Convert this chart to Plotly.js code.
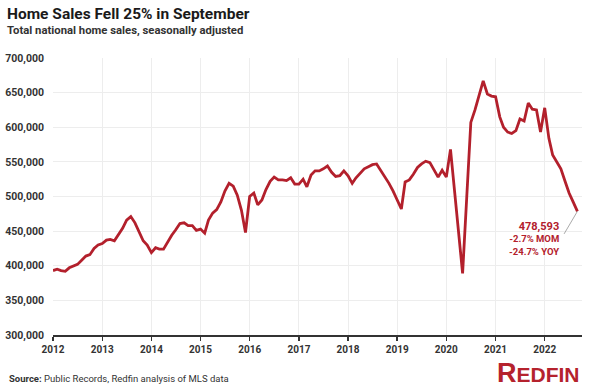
<!DOCTYPE html>
<html>
<head>
<meta charset="utf-8">
<script src="https://cdn.plot.ly/plotly-3.0.1.min.js"></script>
<style>
  html, body { margin: 0; padding: 0; background: #fff; }
  #chart { width: 600px; height: 391px; }
</style>
</head>
<body>
<div id="chart"></div>
<script>
// Monthly total national home sales, seasonally adjusted (Jan..Dec per year)
const years = [2012, 2013, 2014, 2015, 2016, 2017, 2018, 2019, 2020, 2021, 2022];
const sales2012 = [393000, 395000, 393000, 392000, 397000, 400000, 402000, 408000, 414000, 416000, 425000, 430000];
const sales2013 = [432000, 437000, 438000, 436000, 444000, 454000, 466000, 471000, 462000, 448000, 436000, 430000];
const sales2014 = [419000, 426000, 424000, 424000, 434000, 444000, 452000, 461000, 462000, 458000, 458000, 451000];
const sales2015 = [453000, 447000, 466000, 476000, 481000, 492000, 508000, 519000, 515000, 502000, 480000, 448000];
const sales2016 = [500000, 505000, 488000, 495000, 510000, 522000, 528000, 524000, 524000, 523000, 527000, 518000];
const sales2017 = [518000, 525000, 514000, 531000, 537000, 537000, 540000, 544000, 535000, 529000, 530000, 537000];
const sales2018 = [530000, 519000, 527000, 533000, 540000, 543000, 546000, 547000, 538000, 528000, 519000, 508000];
const sales2019 = [495000, 482000, 521000, 524000, 532000, 542000, 547000, 551000, 549000, 538000, 528000, 538000];
const sales2020 = [528000, 568000, 512000, 445000, 389000, 500000, 607000, 625000, 646000, 667000, 648000, 645000];
const sales2021 = [644000, 615000, 600000, 593000, 591000, 595000, 612000, 609000, 635000, 626000, 625000, 593000];
const sales2022 = [628000, 584000, 560000, 550000, 540000, 522000, 505000, 492000, 478593];
const salesByYear = [sales2012, sales2013, sales2014, sales2015, sales2016, sales2017, sales2018, sales2019, sales2020, sales2021, sales2022];

const yTickVals = [300000, 350000, 400000, 450000, 500000, 550000, 600000, 650000, 700000];
const xTickVals = ['2012-01-01','2013-01-01','2014-01-01','2015-01-01','2016-01-01','2017-01-01','2018-01-01','2019-01-01','2020-01-01','2021-01-01','2022-01-01'];
const xTickText = ['2012','2013','2014','2015','2016','2017','2018','2019','2020','2021','2022'];

const titleText = 'Home Sales Fell 25% in September';
const subtitleText = 'Total national home sales, seasonally adjusted';
const calloutText = '<span style="font-size:11px">478,593</span><br>-2.7% MOM<br>-24.7% YOY';
const sourceText = '<b>Source:</b> Public Records, Redfin analysis of MLS data';

// build x/y
const xs = [], ys = [];
years.forEach((yr, i) => {
  salesByYear[i].forEach((v, m) => {
    xs.push(yr + '-' + String(m + 1).padStart(2, '0') + '-01');
    ys.push(v);
  });
});
const lastX = xs[xs.length - 1], lastY = ys[ys.length - 1];

// pixel -> paper helpers (plot area: x 53..582, y 58..335)
const L = 53, R = 18, T = 58, B = 56, W = 600, H = 391;
const pw = W - L - R, ph = H - T - B;
const px = x => (x - L) / pw;
const py = y => (H - B - y) / ph;

const RED = '#b3202c';
const fontFam = 'Roboto, "Open Sans", Arial, sans-serif';

const trace = {
  x: xs, y: ys, type: 'scatter', mode: 'lines',
  line: { color: RED, width: 2.8 },
  hoverinfo: 'skip'
};

const layout = {
  width: W, height: H,
  margin: { l: L, r: R, t: T, b: B, pad: 0 },
  paper_bgcolor: '#fff', plot_bgcolor: '#fff',
  showlegend: false,
  font: { family: fontFam, color: '#333' },
  xaxis: {
    type: 'date',
    range: ['2012-01-01', '2022-10-05'],
    tickvals: xTickVals, ticktext: xTickText,
    showgrid: true, gridcolor: '#ededed', gridwidth: 1,
    showline: true, linecolor: '#333', linewidth: 2,
    ticks: 'outside', ticklen: 4, tickcolor: '#333', tickwidth: 1.5,
    tickfont: { family: fontFam, size: 10, color: '#333', weight: 'bold' },
    zeroline: false, fixedrange: true
  },
  yaxis: {
    range: [300000, 700000],
    tickvals: yTickVals, tickformat: ',d',
    showgrid: true, gridcolor: '#ededed', gridwidth: 1,
    zeroline: false, showline: false, ticks: '',
    ticklabelstandoff: 8,
    tickfont: { family: fontFam, size: 10.5, color: '#333', weight: 'bold' },
    fixedrange: true
  },
  shapes: [
    { type: 'line', xref: 'x', yref: 'y', x0: lastX, y0: lastY, x1: '2022-05-25', y1: 446000,
      line: { color: '#aaaaaa', width: 1 } }
  ],
  annotations: [
    { text: '<b>' + titleText + '</b>', xref: 'paper', yref: 'paper', x: px(5), y: py(14),
      xanchor: 'left', yanchor: 'middle', showarrow: false,
      font: { family: fontFam, size: 15.5, color: '#1a1a1a' } },
    { text: '<b>' + subtitleText + '</b>', xref: 'paper', yref: 'paper', x: px(5), y: py(31),
      xanchor: 'left', yanchor: 'middle', showarrow: false,
      font: { family: fontFam, size: 11.3, color: '#333' } },
    { text: '<b>' + calloutText + '</b>', xref: 'paper', yref: 'paper', x: px(561), y: py(218),
      xanchor: 'right', yanchor: 'top', align: 'right', showarrow: false,
      font: { family: fontFam, size: 9.5, color: RED } },
    { text: sourceText, xref: 'paper', yref: 'paper', x: px(7), y: py(378),
      xanchor: 'left', yanchor: 'middle', showarrow: false,
      font: { family: fontFam, size: 9.5, color: '#333' } },
    { text: '<b><span style="font-size:27px">R</span>EDFIN</b>', xref: 'paper', yref: 'paper', x: px(582), y: py(390),
      xanchor: 'right', yanchor: 'bottom', showarrow: false,
      font: { family: '"Liberation Sans", Arial, sans-serif', size: 21, color: '#b5222d' } }
  ]
};

Plotly.newPlot('chart', [trace], layout, { displayModeBar: false, staticPlot: true });
</script>
</body>
</html>
